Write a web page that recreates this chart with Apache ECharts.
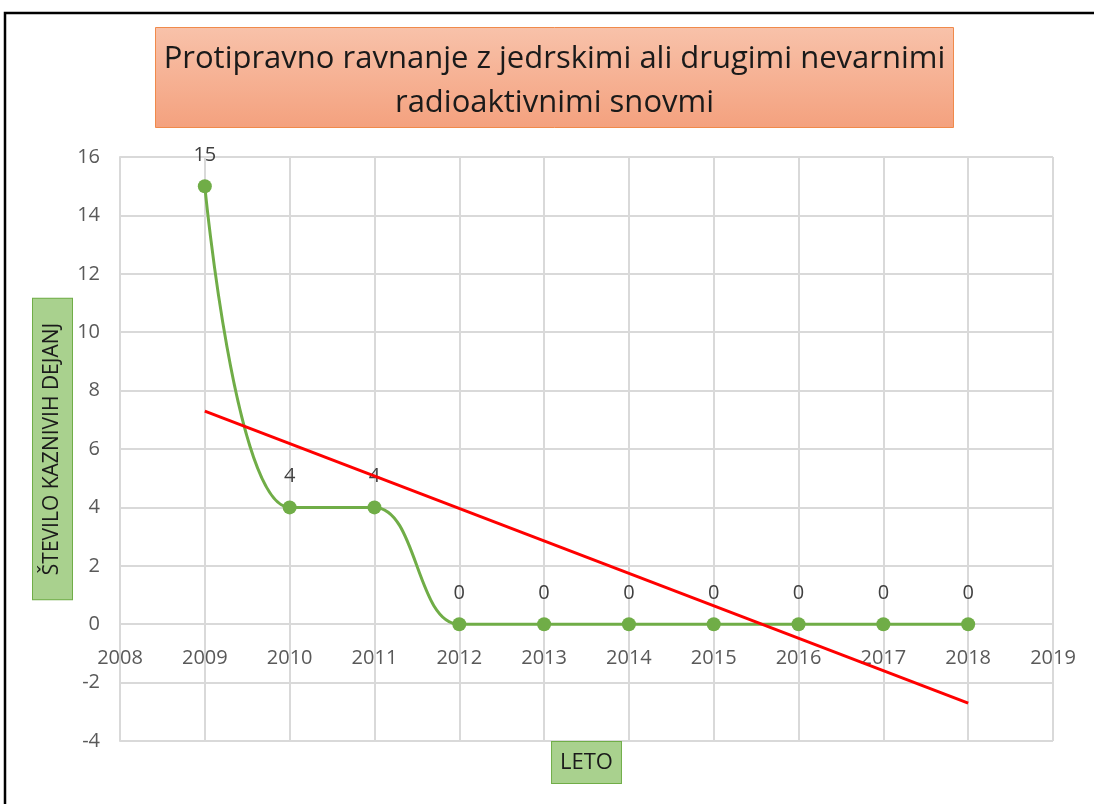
<!DOCTYPE html>
<html>
<head>
<meta http-equiv="Content-Type" content="text/html; charset=utf-8" />
<title>Protipravno ravnanje</title>
<script type="text/javascript" src="https://cdn.jsdelivr.net/npm/echarts@6/dist/echarts.min.js"></script>
<style>
  html, body { margin: 0; padding: 0; background: #fff; }
</style>
</head>
<body>
<div id="content" style="width:1094px;height:804px;"></div>
<script>
var years = [2009, 2010, 2011, 2012, 2013, 2014, 2015, 2016, 2017, 2018];
var cases = [15, 4, 4, 0, 0, 0, 0, 0, 0, 0];
// trend line ends
var trendYears = [2009, 2018];
var trendValues = [7.3, -2.7];

var titleText = 'Protipravno ravnanje z jedrskimi ali drugimi nevarnimi\nradioaktivnimi snovmi';
var font = '"Open Sans", "Noto Sans", sans-serif';

var myChart = echarts.init(document.getElementById('content'));

var caseData = years.map(function (y, i) { return [y, cases[i]]; });
var trendData = trendYears.map(function (y, i) { return [y, trendValues[i]]; });

myChart.setOption({
  animation: false,
  textStyle: { fontFamily: font },
  grid: { left: 120, right: 41, top: 157, bottom: 63, outerBoundsMode: 'none' },
  graphic: [
    {
      type: 'polyline',
      shape: { points: [[5, 804], [5, 13], [1094, 13]] },
      style: { stroke: '#000', lineWidth: 2.5, fill: null }
    },
    {
      type: 'group',
      left: 155,
      top: 27,
      children: [
        {
          type: 'rect',
          shape: { x: 0, y: 0, width: 798, height: 100 },
          style: {
            fill: new echarts.graphic.LinearGradient(0, 0, 0, 1, [
              { offset: 0, color: '#f8c2aa' },
              { offset: 1, color: '#f4a17e' }
            ]),
            stroke: '#f08a4b',
            lineWidth: 1
          }
        },
        {
          type: 'text',
          x: 399,
          y: 54,
          style: {
            text: titleText,
            fontFamily: font,
            fontSize: 31,
            lineHeight: 44,
            fill: '#1a1a1a',
            align: 'center',
            verticalAlign: 'middle'
          }
        }
      ]
    }
  ],
  xAxis: {
    type: 'value',
    min: 2008,
    max: 2019,
    interval: 1,
    offset: -117,
    name: 'LETO',
    nameLocation: 'middle',
    nameGap: 118,
    nameTextStyle: {
      color: '#1a1a1a',
      fontSize: 22,
      lineHeight: 25,
      backgroundColor: '#a9d18e',
      borderColor: '#70ad47',
      borderWidth: 1,
      padding: [8, 8, 8, 8]
    },
    axisLine: { onZero: false, lineStyle: { color: '#d9d9d9', width: 2 } },
    axisTick: { show: false },
    axisLabel: {
      color: '#595959',
      fontSize: 20,
      margin: 24,
      formatter: function (v) { return String(v); }
    },
    splitLine: { show: true, lineStyle: { color: '#d9d9d9', width: 2 } }
  },
  yAxis: {
    type: 'value',
    min: -4,
    max: 16,
    interval: 2,
    name: 'ŠTEVILO KAZNIVIH DEJANJ',
    nameLocation: 'middle',
    nameRotate: 90,
    nameGap: 48,
    nameMoveOverlap: false,
    nameTextStyle: {
      color: '#1a1a1a',
      fontSize: 21,
      lineHeight: 29,
      backgroundColor: '#a9d18e',
      borderColor: '#70ad47',
      borderWidth: 1,
      padding: [5, 24, 5, 24]
    },
    axisLine: { show: true, lineStyle: { color: '#d9d9d9', width: 2 } },
    axisTick: { show: false },
    axisLabel: { color: '#595959', fontSize: 20, margin: 20 },
    splitLine: { show: true, lineStyle: { color: '#d9d9d9', width: 2 } }
  },
  series: [
    {
      name: 'Število',
      type: 'line',
      smooth: 0.4,
      data: caseData,
      symbol: 'circle',
      symbolSize: 14,
      lineStyle: { color: '#70ad47', width: 3 },
      itemStyle: { color: '#70ad47' },
      label: {
        show: true,
        position: 'top',
        distance: 14,
        color: '#404040',
        fontSize: 20,
        formatter: function (p) { return p.value[1]; }
      },
      z: 3
    },
    {
      name: 'Trend',
      type: 'line',
      data: trendData,
      symbol: 'none',
      lineStyle: { color: '#ff0000', width: 3 },
      z: 4
    }
  ]
});
</script>
</body>
</html>
